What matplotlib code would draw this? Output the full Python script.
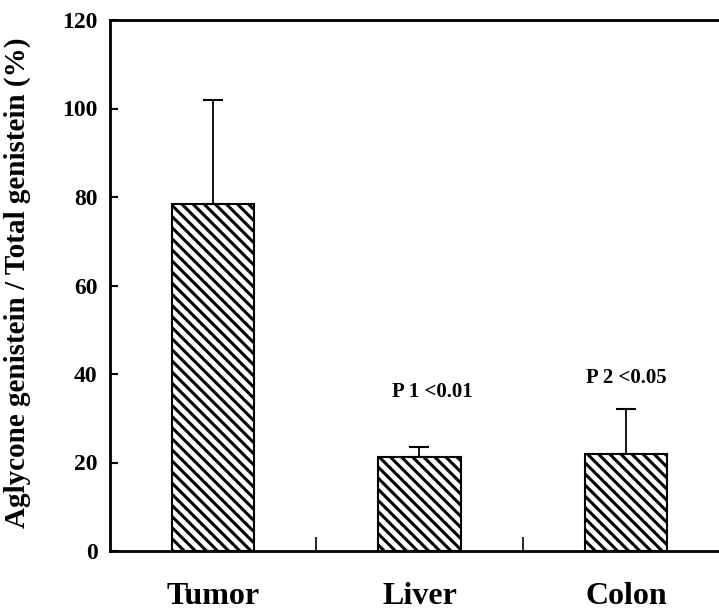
import matplotlib
matplotlib.use('Agg')
import matplotlib.pyplot as plt

tissues = ['Tumor', 'Liver', 'Colon']
ratio = [78.4, 21.2, 21.9]
err_up = [23.5, 2.2, 10.2]
p_labels = ['', 'P 1 <0.01', 'P 2 <0.05']
p_heights = [0, 36, 39.2]
y_ticks = [0, 20, 40, 60, 80, 100, 120]

plt.rcParams['font.family'] = ['Liberation Serif', 'DejaVu Serif']
plt.rcParams['font.weight'] = 'bold'
plt.rcParams['hatch.linewidth'] = 2.2

fig = plt.figure(figsize=(7.19, 6.10), dpi=100)
ax = fig.add_axes([110 / 719, 1 - 551 / 610, 619 / 719, 531 / 610])

x = list(range(len(tissues)))
ax.bar(x, ratio, width=0.4, color='white', edgecolor='black', linewidth=1.5,
       hatch='\\\\\\', zorder=2)
ax.errorbar(x, ratio, yerr=[[0] * 3, err_up], fmt='none', ecolor='black',
            elinewidth=1.3, capsize=7, capthick=1.5, zorder=1)

for xi, lab, h in zip(x, p_labels, p_heights):
    if lab:
        ax.text(xi + (0.06 if xi == 1 else 0), h, lab, ha='center', va='center',
                fontsize=15, fontweight='bold')

ax.set_xlim(-0.5, 2.5)
ax.set_ylim(0, 120)
ax.set_yticks(y_ticks)
ax.tick_params(axis='y', direction='in', length=6, width=1.5, labelsize=17, pad=9)
ax.set_xticks([0.5, 1.5])
ax.set_xticklabels([])
ax.set_xticks(x, minor=True)
ax.set_xticklabels(tissues, minor=True, fontsize=23, fontweight='bold')
ax.tick_params(axis='x', which='major', direction='in', length=10, width=1.2)
ax.tick_params(axis='x', which='minor', length=0, pad=22)

for s in ['left', 'bottom', 'top']:
    ax.spines[s].set_linewidth(2)
ax.spines['right'].set_visible(False)

ax.set_ylabel('Aglycone genistein / Total genistein (%)', fontsize=21, fontweight='bold')
ax.yaxis.set_label_coords(-0.128, 0.505)

fig.savefig('out.png', dpi=100)
